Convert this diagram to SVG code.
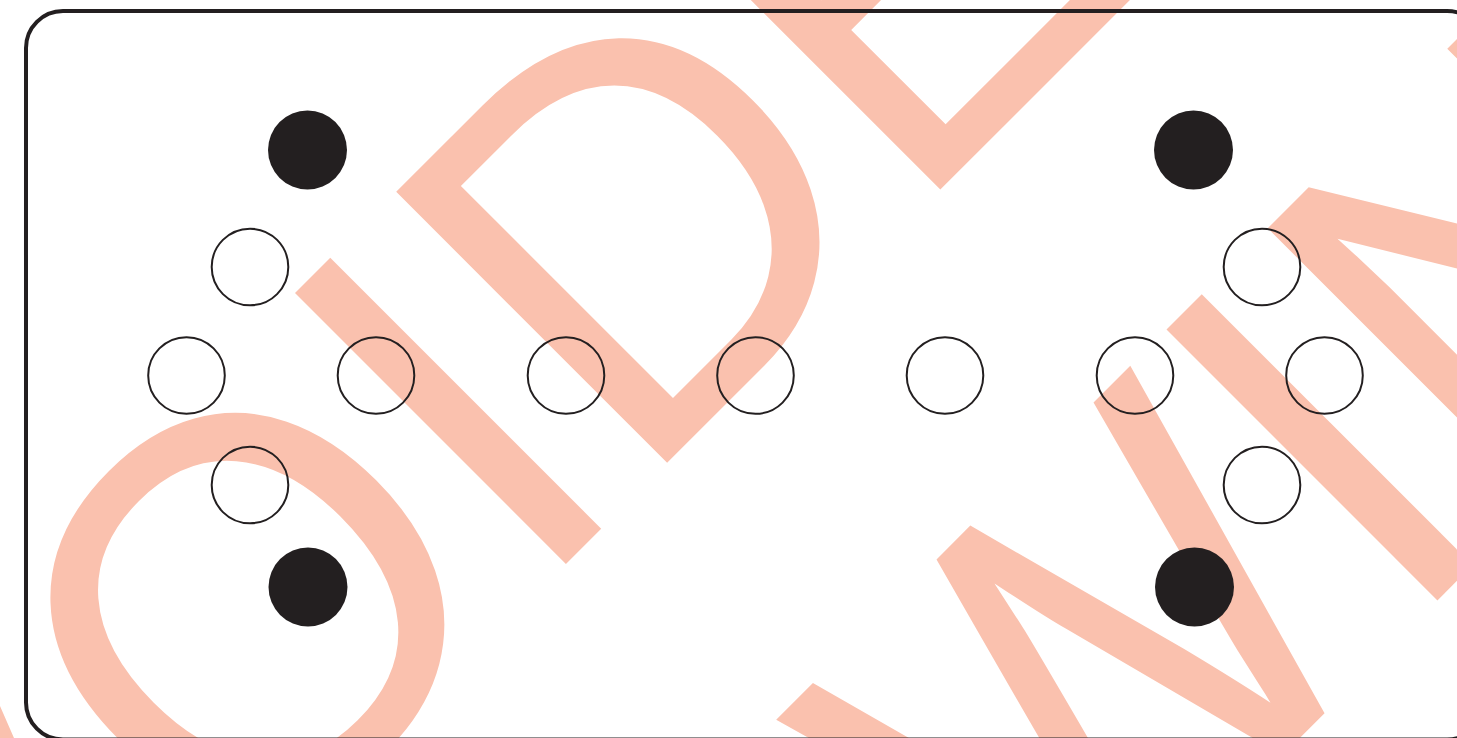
<svg xmlns="http://www.w3.org/2000/svg" width="1457" height="738" viewBox="0 0 1457 738">
  <style>
    .wm { font-family: "Liberation Sans", Arial, sans-serif; font-size: 535px; fill: #FAC1AE; font-kerning: none; }
    .frame { fill: none; stroke: #231F20; stroke-width: 4; }
    .hole { fill: none; stroke: #231F20; stroke-width: 2; }
    .pin { fill: #231F20; }
  </style>
  <rect width="1457" height="738" fill="#FFFFFF"/>
  <g id="watermark" transform="rotate(-45) scale(1,1.041)">
    <text class="wm" x="-821" y="767.5">VOIDED</text>
    <text class="wm" x="-1092" y="1384.2">DRAWING</text>
  </g>
  <g id="frame">
    <rect class="frame" x="26" y="11" width="1458" height="728.5" rx="37" ry="37"/>
  </g>
  <g id="connectors"></g>
  <g id="pins">
    <g id="pin-tl"><circle class="pin" cx="307.5" cy="150" r="39.5"/></g>
    <g id="pin-tr"><circle class="pin" cx="1193.5" cy="150" r="39.5"/></g>
    <g id="pin-bl"><circle class="pin" cx="308" cy="587" r="39.5"/></g>
    <g id="pin-br"><circle class="pin" cx="1194.5" cy="587" r="39.5"/></g>
  </g>
  <g id="holes">
    <g id="hole-l-top"><circle class="hole" cx="250" cy="267" r="38.3"/></g>
    <g id="hole-l-bot"><circle class="hole" cx="250" cy="485" r="38.3"/></g>
    <g id="hole-r-top"><circle class="hole" cx="1262" cy="267" r="38.3"/></g>
    <g id="hole-r-bot"><circle class="hole" cx="1262" cy="485" r="38.3"/></g>
    <g id="hole-1"><circle class="hole" cx="186.5" cy="375.5" r="38.3"/></g>
    <g id="hole-2"><circle class="hole" cx="376" cy="375.5" r="38.3"/></g>
    <g id="hole-3"><circle class="hole" cx="566" cy="375.5" r="38.3"/></g>
    <g id="hole-4"><circle class="hole" cx="755.5" cy="375.5" r="38.3"/></g>
    <g id="hole-5"><circle class="hole" cx="945" cy="375.5" r="38.3"/></g>
    <g id="hole-6"><circle class="hole" cx="1135" cy="375.5" r="38.3"/></g>
    <g id="hole-7"><circle class="hole" cx="1324.5" cy="375.5" r="38.3"/></g>
  </g>
</svg>
